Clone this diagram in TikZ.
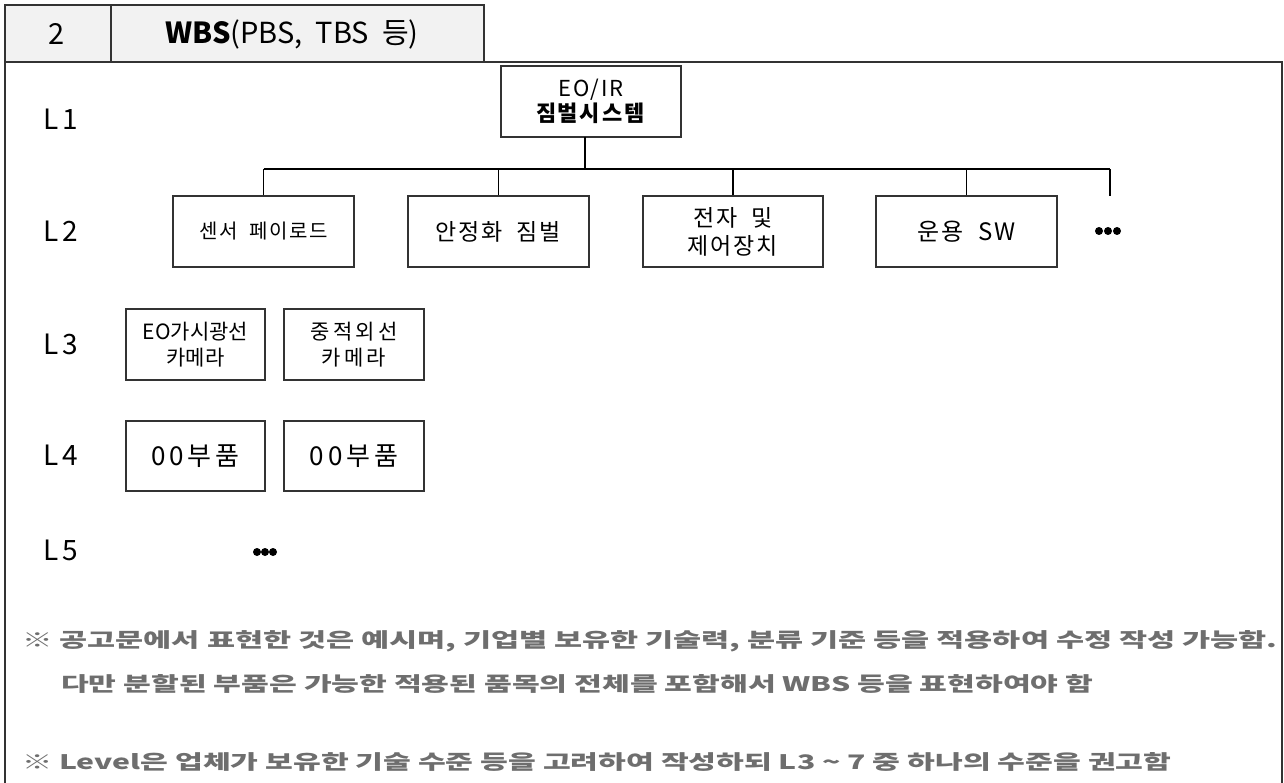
\documentclass[tikz,border=0pt]{standalone}
\usepackage{fontspec}
\usepackage{graphicx}
\setmainfont{Noto Sans CJK KR}
\newfontfamily\boxfont[LetterSpace=8]{Noto Sans CJK KR}
\newfontfamily\wideboxfont[LetterSpace=15]{Noto Sans CJK KR}
\newfontfamily\lblfont[LetterSpace=14]{Noto Sans CJK KR}
\newfontfamily\notefont{Noto Sans CJK KR}
\definecolor{hdrfill}{HTML}{F2F2F2}
\definecolor{linecol}{HTML}{333333}
\definecolor{notecol}{HTML}{6E6E6E}
\begin{document}
\begin{tikzpicture}[x=1pt,y=-1pt,
  frame/.style={draw=linecol,line width=1.3pt},
  wbox/.style={draw=linecol,line width=1.1pt,inner sep=0pt,align=center,font=\boxfont\fontsize{21}{27}\selectfont},
  conn/.style={draw=black,line width=1.1pt},
  lvl/.style={anchor=west,inner sep=0pt,font=\lblfont\fontsize{28}{30}\selectfont},
  dotmark/.style={circle,fill=black,inner sep=0pt,minimum size=8pt},
  note/.style={anchor=west,inner sep=0pt,text=notecol,font=\notefont\bfseries\fontsize{20}{22}\selectfont}]
\useasboundingbox (0,0) rectangle (1284,783);
% header
\fill[hdrfill] (5,5) rectangle (484,62);
\draw[frame] (5,62) -- (5,5) -- (484,5) -- (484,62);
\draw[frame] (111,5) -- (111,62);
\node[inner sep=0pt,font=\fontsize{29}{32}\selectfont] (hnum) at (57,34) {2};
\node[inner sep=0pt,font=\fontsize{29}{32}\selectfont] (htitle) at (292,34) {\textbf{WBS}(PBS,\ \ TBS\ \ 등)};
% main frame
\draw[frame] (5,783) -- (5,62) -- (1282,62) -- (1282,783);
% level labels
\node[lvl] (L1) at (43,119) {L1};
\node[lvl] (L2) at (43,231) {L2};
\node[lvl] (L3) at (43,344) {L3};
\node[lvl] (L4) at (43,455) {L4};
\node[lvl] (L5) at (43,550) {L5};
% L1
\node[wbox,minimum width=180pt,minimum height=71pt,font=\boxfont\fontsize{22}{28}\selectfont] (root) at (591,101.5) {EO/IR\\[-3pt]\textbf{짐벌시스템}};
% L2
\node[wbox,minimum width=181pt,minimum height=71pt,font=\boxfont\fontsize{20}{27}\selectfont] (sensor) at (263.5,231.5) {센서\ \ 페이로드};
\node[wbox,minimum width=181pt,minimum height=71pt,font=\boxfont\fontsize{23}{28}\selectfont] (gimbal) at (498.5,231.5) {안정화\ \ 짐벌};
\node[wbox,minimum width=180pt,minimum height=71pt,font=\boxfont\fontsize{23}{28}\selectfont] (elec) at (733,231.5) {전자\ \ 및\\제어장치};
\node[wbox,minimum width=181pt,minimum height=71pt,font=\boxfont\fontsize{24}{28}\selectfont] (sw) at (966.5,231.5) {운용\ \ SW};
\coordinate (more) at (1110,196);
\node[dotmark] (d1) at (1099,231) {};
\node[dotmark] (d2) at (1108,231) {};
\node[dotmark] (d3) at (1117,231) {};
% bus
\coordinate (busL) at (263.5,169);
\coordinate (busR) at (1110,169);
\coordinate (rootdrop) at (585,137);
\draw[conn] (busL) -- (busR);
\draw[conn] (rootdrop) -- (rootdrop |- busL);
\draw[conn] (sensor.north) -- (sensor.north |- busL);
\draw[conn] (gimbal.north) -- (gimbal.north |- busL);
\draw[conn] (elec.north) -- (elec.north |- busL);
\draw[conn] (sw.north) -- (sw.north |- busL);
\draw[conn] (more) -- (busR);
% L3
\node[wbox,minimum width=139pt,minimum height=71pt,font=\fontsize{21}{26}\selectfont] (eo) at (195.5,344.5) {EO가시광선\\카메라};
\node[wbox,minimum width=140pt,minimum height=71pt,font=\wideboxfont\fontsize{21}{26}\selectfont] (ir) at (354,344.5) {중적외선\\카메라};
% L4
\node[wbox,minimum width=139pt,minimum height=70pt,font=\wideboxfont\fontsize{26}{28}\selectfont] (p1) at (195.5,456) {00부품};
\node[wbox,minimum width=140pt,minimum height=70pt,font=\wideboxfont\fontsize{26}{28}\selectfont] (p2) at (354,456) {00부품};
% L5
\node[dotmark] (e1) at (257,552) {};
\node[dotmark] (e2) at (265,552) {};
\node[dotmark] (e3) at (273,552) {};
% notes
\node[note] (n1) at (22,641) {\resizebox{1255pt}{\height}{※ 공고문에서 표현한 것은 예시며, 기업별 보유한 기술력, 분류 기준 등을 적용하여 수정 작성 가능함.}};
\node[note] (n2) at (61,684) {\resizebox{1032pt}{\height}{다만 분할된 부품은 가능한 적용된 품목의 전체를 포함해서 WBS 등을 표현하여야 함}};
\node[note] (n3) at (22,762) {\resizebox{1149pt}{\height}{※ Level은 업체가 보유한 기술 수준 등을 고려하여 작성하되 L3 \textasciitilde{} 7 중 하나의 수준을 권고함}};
\end{tikzpicture}
\end{document}
